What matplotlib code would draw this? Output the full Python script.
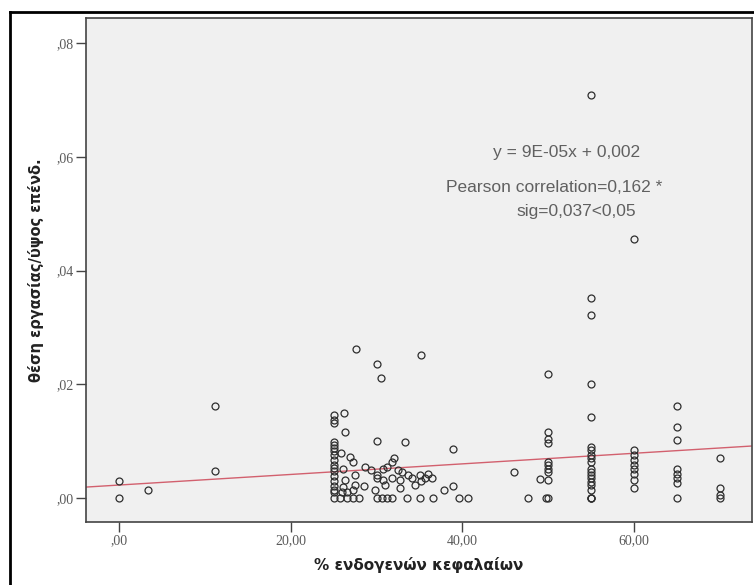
import matplotlib
matplotlib.use("Agg")
import matplotlib.pyplot as plt
from matplotlib.lines import Line2D

# ---------------- data ----------------
x_left = [0.0, 0.0, 3.4, 11.2, 11.2]
y_left = [0.0030, 0.0, 0.0015, 0.0162, 0.0047]

x_c25 = [25.0] * 18
y_c25 = [0.0146, 0.0137, 0.0132, 0.0099, 0.0093, 0.0088, 0.0082, 0.0076,
         0.0067, 0.0059, 0.0053, 0.0047, 0.0039, 0.0030, 0.0021, 0.0015,
         0.0010, 0.0]

x_c26 = [26.2, 26.3, 25.9, 26.9, 27.3, 26.1, 27.5, 26.3, 26.1, 27.5, 28.5,
         27.3, 26.0, 26.5, 25.7, 26.5, 27.3, 27.9, 27.6]
y_c26 = [0.0150, 0.0117, 0.0079, 0.0072, 0.0064, 0.0052, 0.0040, 0.0032,
         0.0020, 0.0023, 0.0022, 0.0014, 0.0011, 0.0011, 0.0, 0.0, 0.0, 0.0,
         0.0262]

x_c30 = [28.7, 29.4, 30.0, 30.0, 30.0, 30.0, 30.5, 29.8, 30.0, 30.6, 31.2,
         31.8, 30.8, 31.2, 31.8, 32.0, 32.5, 32.9, 30.8, 31.0, 31.8, 32.7,
         32.7, 33.3, 33.5]
y_c30 = [0.0054, 0.0049, 0.0040, 0.0035, 0.0100, 0.0236, 0.0211, 0.0014,
         0.0, 0.0, 0.0, 0.0, 0.0052, 0.0055, 0.0064, 0.0070, 0.0049, 0.0046,
         0.0031, 0.0023, 0.0035, 0.0032, 0.0017, 0.0098, 0.0]

x_c35 = [33.7, 34.1, 34.5, 35.1, 35.6, 35.2, 35.0, 35.2, 36.0, 36.5, 36.6,
         37.8, 38.9, 38.9, 39.6, 40.7]
y_c35 = [0.0040, 0.0035, 0.0023, 0.0040, 0.0035, 0.0030, 0.0, 0.0251,
         0.0042, 0.0035, 0.0, 0.0014, 0.0021, 0.0087, 0.0, 0.0]

x_c50 = [46.0, 47.6, 49.0, 50.0, 50.0, 50.0, 50.0, 50.0, 50.0, 50.0, 50.0,
         50.0, 50.0, 49.7]
y_c50 = [0.0046, 0.0, 0.0033, 0.0218, 0.0117, 0.0104, 0.0097, 0.0064,
         0.0058, 0.0052, 0.0046, 0.0032, 0.0, 0.0]

x_c55 = [55.0] * 20
y_c55 = [0.0709, 0.0351, 0.0322, 0.0200, 0.0143, 0.0090, 0.0084, 0.0076,
         0.0070, 0.0064, 0.0052, 0.0046, 0.0040, 0.0035, 0.0029, 0.0023,
         0.0014, 0.0, 0.0, 0.0]

x_c60 = [60.0] * 9
y_c60 = [0.0455, 0.0084, 0.0076, 0.0067, 0.0058, 0.0052, 0.0043, 0.0032,
         0.0017]

x_c65 = [65.0] * 8
y_c65 = [0.0162, 0.0125, 0.0102, 0.0052, 0.0043, 0.0035, 0.0026, 0.0]

x_c70 = [70.0] * 4
y_c70 = [0.0070, 0.0017, 0.0005, 0.0]

x_values = x_left + x_c25 + x_c26 + x_c30 + x_c35 + x_c50 + x_c55 + x_c60 + x_c65 + x_c70
y_values = y_left + y_c25 + y_c26 + y_c30 + y_c35 + y_c50 + y_c55 + y_c60 + y_c65 + y_c70

fit_slope = 9.3e-05
fit_intercept = 0.0023

x_ticks = [0, 20, 40, 60]
x_tick_labels = [",00", "20,00", "40,00", "60,00"]
y_ticks = [0.0, 0.02, 0.04, 0.06, 0.08]
y_tick_labels = [",00", ",02", ",04", ",06", ",08"]

x_label = "% ενδογενών κεφαλαίων"
y_label = "θέση εργασίας/ύψος επένδ."
ann_eq = "y = 9E-05x + 0,002"
ann_r = "Pearson correlation=0,162 *"
ann_sig = "sig=0,037<0,05"

# ---------------- figure ----------------
W, H = 754, 585
fig = plt.figure(figsize=(W / 100, H / 100), dpi=100)
fig.patch.set_facecolor("white")

ax = fig.add_axes([86 / W, 1 - 522 / H, (752 - 86) / W, (522 - 18) / H])
ax.set_facecolor("#f0f0f0")
xmin, xmax = -3.88, 73.76
ymin, ymax = -0.0042, 0.0844
ax.set_xlim(xmin, xmax)
ax.set_ylim(ymin, ymax)

# regression line
ax.plot([xmin, xmax], [fit_intercept + fit_slope * xmin, fit_intercept + fit_slope * xmax],
        color="#d2606e", lw=1.0, zorder=2)

# points
ax.plot(x_values, y_values, linestyle="none", marker="o", markersize=5.0,
        markerfacecolor="none", markeredgecolor="#2e2e2e", markeredgewidth=0.9, zorder=3)

# annotations
ann_font = dict(family=["Liberation Sans Narrow", "Liberation Sans", "DejaVu Sans"],
                color="#606060", ha="center", va="center")
ax.text(52.2, 0.0608, ann_eq, fontsize=12.5, **ann_font)
ax.text(50.7, 0.0546, ann_r, fontsize=12.5, **ann_font)
ax.text(53.3, 0.0503, ann_sig, fontsize=12.5, **ann_font)

# ticks
ax.set_xticks(x_ticks)
ax.set_xticklabels(x_tick_labels)
ax.set_yticks(y_ticks)
ax.set_yticklabels(y_tick_labels)
ax.tick_params(axis="both", direction="out", length=7, width=1.0, color="#444444",
               labelsize=10, labelcolor="#5a5a5a", pad=2)
for lab in ax.get_xticklabels() + ax.get_yticklabels():
    lab.set_family(["Liberation Serif", "DejaVu Serif"])

for sp in ax.spines.values():
    sp.set_color("#444444")
    sp.set_linewidth(1.2)

fig.text(419 / W, 1 - 565 / H, x_label, ha="center", va="center",
         fontsize=11, fontweight="bold", color="#222222", family=["DejaVu Sans"])
fig.text(36 / W, 1 - 270 / H, y_label, ha="center", va="center", rotation=90,
         fontsize=10.5, fontweight="bold", color="#222222", family=["DejaVu Sans"])

# outer black frame (top and left)
fig.add_artist(Line2D([10 / W, 1.0], [1 - 12 / H, 1 - 12 / H], color="black", lw=2,
                      transform=fig.transFigure))
fig.add_artist(Line2D([10 / W, 10 / W], [0.0, 1 - 12 / H], color="black", lw=2,
                      transform=fig.transFigure))

fig.savefig("out.png", dpi=100)
